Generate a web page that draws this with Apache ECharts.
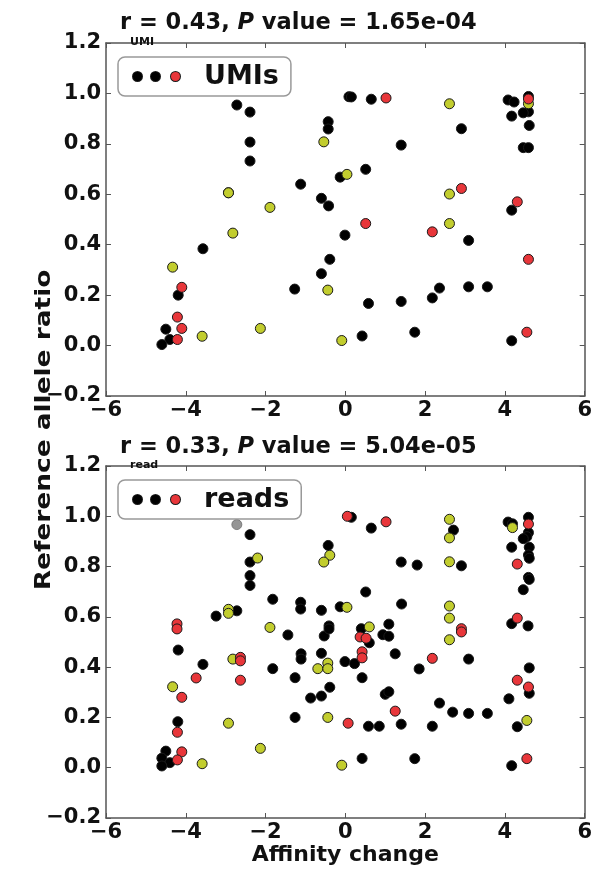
<!DOCTYPE html>
<html>
<head>
<meta charset="utf-8">
<script src="https://cdn.jsdelivr.net/npm/echarts@6/dist/echarts.min.js"></script>
<style>
  html, body { margin: 0; padding: 0; background: #fff; }
  #main { width: 595px; height: 874px; }
</style>
</head>
<body>
<div id="main"></div>
<script>
// axis ranges / labels
const xRange = [-6, 6];
const yRange = [-0.2, 1.2];
const yName = "Reference allele ratio";
const xName = "Affinity change";

// top panel: UMIs  [affinity change, reference allele ratio]
const umiBlack = [
  [-2.72, 0.954], [-2.39, 0.926], [-2.39, 0.807], [-2.39, 0.732], [-2.93, 0.606],
  [-1.12, 0.64], [-0.6, 0.584], [-0.42, 0.554], [-0.43, 0.888], [-0.43, 0.859],
  [-0.13, 0.668], [0.09, 0.987], [0.15, 0.986], [0.65, 0.977], [2.91, 0.86],
  [1.4, 0.795], [0.51, 0.699], [4.17, 0.537], [4.08, 0.974], [4.23, 0.966],
  [4.59, 0.988], [4.59, 0.927], [4.46, 0.923], [4.17, 0.91], [4.61, 0.873],
  [4.46, 0.785], [4.59, 0.785], [-3.57, 0.384], [-0.01, 0.438], [-0.39, 0.342],
  [-0.6, 0.285], [-4.19, 0.2], [-1.27, 0.224], [-4.5, 0.065], [-4.4, 0.024],
  [-4.6, 0.004], [3.09, 0.417], [0.58, 0.167], [1.4, 0.175], [2.18, 0.189],
  [2.36, 0.228], [3.09, 0.233], [3.56, 0.233], [0.42, 0.038], [1.74, 0.053],
  [4.17, 0.019]
];
const umiYellow = [
  [-2.93, 0.606], [-1.89, 0.548], [-0.54, 0.808], [0.04, 0.679], [2.61, 0.959],
  [2.61, 0.601], [4.59, 0.959], [-2.82, 0.446], [-4.33, 0.311], [-0.44, 0.22],
  [-3.59, 0.037], [-2.13, 0.068], [-0.09, 0.02], [2.61, 0.484]
];
const umiRed = [
  [1.02, 0.982], [2.91, 0.623], [4.31, 0.57], [4.59, 0.978], [-4.1, 0.231],
  [-4.21, 0.113], [-4.1, 0.068], [-4.21, 0.024], [0.51, 0.484], [2.18, 0.451],
  [4.59, 0.342], [4.55, 0.053]
];

// bottom panel: reads
const readBlack = [
  [-2.39, 0.927], [-0.43, 0.884], [-2.39, 0.818], [-2.39, 0.764], [-2.39, 0.725],
  [-1.82, 0.67], [-1.12, 0.658], [-1.12, 0.631], [-0.6, 0.626], [-0.13, 0.64],
  [-3.24, 0.603], [-2.72, 0.624], [0.15, 0.996], [0.65, 0.953], [2.71, 0.945],
  [4.08, 0.977], [4.19, 0.97], [4.59, 0.996], [4.59, 0.935], [4.55, 0.919],
  [4.46, 0.911], [4.17, 0.877], [4.61, 0.877], [4.59, 0.846], [4.61, 0.833],
  [4.59, 0.757], [4.61, 0.749], [4.46, 0.708], [1.4, 0.818], [1.8, 0.806],
  [2.91, 0.803], [0.51, 0.699], [1.41, 0.651], [-4.19, 0.468], [-3.57, 0.411],
  [-4.2, 0.183], [-4.5, 0.066], [-4.6, 0.038], [-4.4, 0.02], [-4.6, 0.007],
  [-1.44, 0.528], [-1.82, 0.394], [-1.26, 0.358], [-1.26, 0.2], [-1.11, 0.453],
  [-1.11, 0.432], [-0.87, 0.277], [-0.6, 0.285], [-0.6, 0.455], [-0.53, 0.524],
  [-0.41, 0.564], [-0.41, 0.552], [-0.39, 0.32], [-0.01, 0.422], [3.09, 0.432],
  [4.17, 0.573], [4.58, 0.564], [4.61, 0.397], [4.61, 0.296], [4.1, 0.274],
  [4.31, 0.163], [4.17, 0.008], [0.4, 0.553], [0.6, 0.497], [1.09, 0.571],
  [0.94, 0.529], [1.09, 0.523], [1.25, 0.453], [0.23, 0.414], [0.42, 0.358],
  [1.85, 0.393], [1.0, 0.292], [1.09, 0.302], [2.36, 0.257], [2.69, 0.221],
  [3.09, 0.216], [3.56, 0.216], [0.58, 0.165], [0.85, 0.165], [1.4, 0.173],
  [2.18, 0.165], [0.42, 0.037], [1.74, 0.036]
];
const readYellow = [
  [-0.39, 0.845], [-0.54, 0.818], [-2.2, 0.834], [0.04, 0.638], [-2.93, 0.63],
  [-2.93, 0.614], [2.61, 0.988], [2.61, 0.914], [4.19, 0.955], [2.61, 0.819],
  [2.61, 0.643], [2.61, 0.595], [-4.33, 0.322], [-3.59, 0.016], [-2.93, 0.177],
  [-2.13, 0.077], [-2.82, 0.432], [-1.89, 0.558], [-0.69, 0.394], [-0.44, 0.416],
  [-0.44, 0.394], [-0.44, 0.2], [-0.09, 0.01], [2.61, 0.509], [0.6, 0.56],
  [4.55, 0.188]
];
const readRed = [
  [0.05, 1.0], [1.02, 0.978], [4.59, 0.969], [4.31, 0.81], [4.31, 0.595],
  [-4.22, 0.572], [-4.22, 0.552], [-3.74, 0.357], [-4.1, 0.28], [-4.21, 0.141],
  [-4.1, 0.063], [-4.21, 0.031], [-2.63, 0.439], [-2.63, 0.425], [-2.63, 0.348],
  [0.07, 0.177], [2.91, 0.553], [2.91, 0.54], [4.31, 0.348], [4.59, 0.321],
  [4.55, 0.036], [0.37, 0.52], [0.52, 0.515], [0.42, 0.461], [0.42, 0.437],
  [2.18, 0.435], [1.25, 0.225]
];
const readGray = [[-2.72, 0.967]];

const FONT = '"DejaVu Sans", Verdana, sans-serif';
const INK = "#111";
const FRAME = "#555";
const BLACK = "#000";
const YELLOW = "#c2cd2e";
const RED = "#e8363a";

const minus = (s) => s.replace("-", "\u2212");

function xAxis(grid, pos) {
  return {
    type: "value", gridIndex: grid, position: pos,
    min: xRange[0], max: xRange[1], interval: 2,
    axisLine: { show: true, onZero: false, lineStyle: { color: FRAME, width: 1.5 } },
    axisTick: { show: true, inside: true, length: 5, lineStyle: { color: FRAME } },
    splitLine: { show: false },
    axisLabel: {
      show: pos === "bottom", margin: 4, hideOverlap: false,
      color: INK, fontFamily: FONT, fontWeight: "bold", fontSize: 21,
      formatter: (v) => minus(String(v)),
    },
  };
}

function yAxis(grid, pos) {
  return {
    type: "value", gridIndex: grid, position: pos,
    min: yRange[0], max: yRange[1], interval: 0.2,
    axisLine: { show: true, onZero: false, lineStyle: { color: FRAME, width: 1.5 } },
    axisTick: { show: true, inside: true, length: 5, lineStyle: { color: FRAME } },
    splitLine: { show: false },
    axisLabel: {
      show: pos === "left", margin: 5, hideOverlap: false,
      color: INK, fontFamily: FONT, fontWeight: "bold", fontSize: 21,
      formatter: (v) => minus(v.toFixed(1)),
    },
  };
}

function scatter(name, data, color, axis, extra) {
  return Object.assign({
    type: "scatter", name: name, data: data,
    xAxisIndex: axis, yAxisIndex: axis,
    symbol: "circle", symbolSize: 10,
    itemStyle: { color: color, borderColor: "#1a1a1a", borderWidth: 1, opacity: 1 },
    emphasis: { disabled: true },
  }, extra || {});
}

function legend(name, top) {
  const dot = (c) => ({
    width: 9, height: 9, borderRadius: 4.5, backgroundColor: c,
    borderColor: "#1a1a1a", borderWidth: 1, verticalAlign: "middle",
  });
  return {
    data: [{ name: name, icon: "none" }],
    selectedMode: false,
    left: 118, top: top,
    itemWidth: 0, itemHeight: 0,
    padding: [6, 12, 6, 10],
    backgroundColor: "#fff",
    borderColor: "#999", borderWidth: 1.5, borderRadius: 7,
    formatter: (n) => "{k|}{g|}{k|}{g2|}{r|}{sp|}{t|" + n + "}",
    textStyle: {
      rich: {
        k: dot(BLACK), r: dot(RED),
        g: { width: 9 }, g2: { width: 11 }, sp: { width: 24 },
        t: { fontFamily: FONT, fontWeight: "bold", fontSize: 27, lineHeight: 34, color: INK, verticalAlign: "middle" },
      },
    },
  };
}

function title(main, p, sub, top, subTop) {
  return [
    {
      text: "{b|" + main + "}{i|P}{b|" + p + "}",
      left: 115, top: top,
      textStyle: {
        rich: {
          b: { fontFamily: FONT, fontWeight: "bold", fontSize: 22.5, color: INK },
          i: { fontFamily: FONT, fontWeight: "bold", fontStyle: "italic", fontSize: 22.5, color: INK },
        },
      },
    },
    {
      text: sub, left: 125, top: subTop,
      textStyle: { fontFamily: FONT, fontWeight: "bold", fontSize: 11, color: INK },
    },
  ];
}

const chart = echarts.init(document.getElementById("main"), null, { renderer: "canvas" });

chart.setOption({
  backgroundColor: "#fff",
  animation: false,
  title: [].concat(
    title("r = 0.43, ", " value = 1.65e-04", "UMI", 7, 32),
    title("r = 0.33, ", " value = 5.04e-05", "read", 431, 455)
  ),
  legend: [legend("UMIs", 57), legend("reads", 480)],
  grid: [
    { left: 106, top: 43, width: 479, height: 353 },
    { left: 106, top: 466, width: 479, height: 352 },
  ],
  xAxis: [
    xAxis(0, "bottom"), xAxis(0, "top"),
    Object.assign(xAxis(1, "bottom"), {
      name: xName, nameLocation: "middle", nameGap: 25,
      nameTextStyle: { fontFamily: FONT, fontWeight: "bold", fontSize: 22, color: INK },
    }),
    xAxis(1, "top"),
  ],
  yAxis: [yAxis(0, "left"), yAxis(0, "right"), yAxis(1, "left"), yAxis(1, "right")],
  graphic: [
    {
      type: "text", x: 44, y: 430, rotation: Math.PI / 2, scaleX: 1.2,
      style: {
        text: yName, fill: INK, align: "center", verticalAlign: "middle",
        font: 'bold 22px "DejaVu Sans", Verdana, sans-serif',
      },
    },
  ],
  series: [
    scatter("UMIs", umiBlack, BLACK, 0),
    scatter("UMIs yellow", umiYellow, YELLOW, 0),
    scatter("UMIs red", umiRed, RED, 0),
    scatter("reads", readBlack, BLACK, 2),
    scatter("reads gray", readGray, "#7a7a7a", 2, { itemStyle: { color: "#7a7a7a", borderColor: "#6a6a6a", borderWidth: 1 } }),
    scatter("reads yellow", readYellow, YELLOW, 2),
    scatter("reads red", readRed, RED, 2),
  ],
});
</script>
</body>
</html>
